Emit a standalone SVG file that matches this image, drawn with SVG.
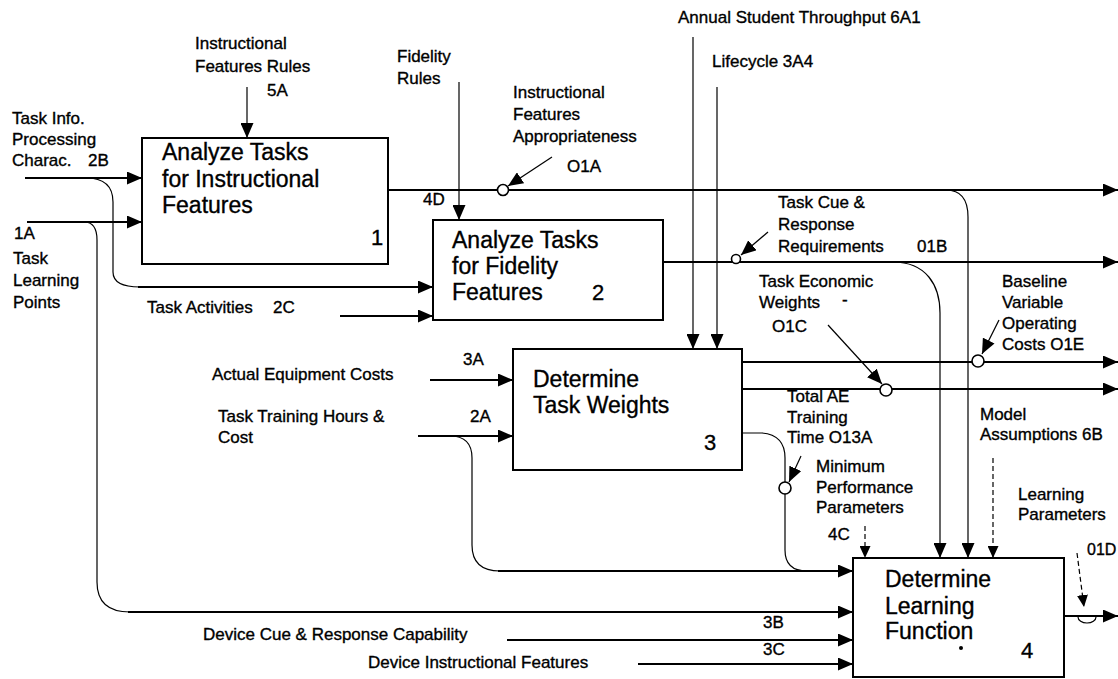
<svg xmlns="http://www.w3.org/2000/svg" width="1118" height="679" viewBox="0 0 1118 679">
<defs>
<style>
text{font-family:"Liberation Sans",Arial,sans-serif;fill:#000;stroke:#000;stroke-width:0.35}
.lb{font-size:17px}
.bt{font-size:23px}
.num{font-size:22px}
.box{fill:#fff;stroke:#000;stroke-width:2}
.ln{fill:none;stroke:#000;stroke-width:1.8}
.th{fill:none;stroke:#000;stroke-width:1.2}
.ds{fill:none;stroke:#000;stroke-width:1.2;stroke-dasharray:5 3}
.ci{fill:#fff;stroke:#000;stroke-width:1.6}
</style>
<marker id="ah" markerUnits="userSpaceOnUse" markerWidth="15" markerHeight="13" refX="15" refY="6.5" orient="auto">
<path d="M0,0 L15,6.5 L0,13 z" fill="#000"/>
</marker>
<marker id="as" markerUnits="userSpaceOnUse" markerWidth="12" markerHeight="11" refX="12" refY="5.5" orient="auto">
<path d="M0,0 L12,5.5 L0,11 z" fill="#000"/>
</marker>
</defs>
<rect width="1118" height="679" fill="#fff"/>

<g id="connectors">
<path class="ln" d="M25,178 H142" marker-end="url(#ah)"/>
<path class="th" d="M86,178 Q113,178 113,202 V272 Q113,287 140,287"/>
<path class="ln" d="M138,287 H433" marker-end="url(#ah)"/>
<path class="ln" d="M27,222 H142" marker-end="url(#ah)"/>
<path class="th" d="M84,222 Q97,222 97,240 V582 Q97,612 130,612"/>
<path class="ln" d="M128,612 H853" marker-end="url(#ah)"/>
<path class="ln" d="M340,316 H433" marker-end="url(#ah)"/>
<path class="th" d="M247,87 V138" marker-end="url(#ah)"/>
<path class="th" d="M459,82 V220" marker-end="url(#ah)"/>
<path class="th" d="M693,37 V349" marker-end="url(#ah)"/>
<path class="th" d="M717,87 V349" marker-end="url(#ah)"/>
<path class="ln" d="M388,190 H1118" marker-end="url(#ah)"/>
<path class="th" d="M946,190 C962,190 968,200 968,217 V558" marker-end="url(#ah)"/>
<path class="ln" d="M663,262 H1118" marker-end="url(#ah)"/>
<path class="th" d="M893,262 C926,262 940,285 940,313 V558" marker-end="url(#ah)"/>
<path class="ln" d="M430,380 H513" marker-end="url(#ah)"/>
<path class="ln" d="M418,436 H513" marker-end="url(#ah)"/>
<path class="th" d="M450,436 Q472,436 472,458 V545 Q472,571 500,571"/>
<path class="ln" d="M498,571 H853" marker-end="url(#ah)"/>
<path class="ln" d="M742,362 H1118" marker-end="url(#ah)"/>
<path class="ln" d="M742,389 H1118" marker-end="url(#ah)"/>
<path class="th" d="M742,433 H762 Q785,435 785,458 V550 Q785,571 807,571"/>
<path class="ln" d="M507,640 H853" marker-end="url(#ah)"/>
<path class="ln" d="M638,664 H853" marker-end="url(#ah)"/>
<path class="ds" d="M865,526 V558" marker-end="url(#as)"/>
<path class="ds" d="M993,458 V558" marker-end="url(#as)"/>
<path class="ln" d="M1064,616 H1118" marker-end="url(#ah)"/>
<path class="ds" d="M1077,553 L1084,607" marker-end="url(#as)"/>
<path class="th" d="M1078,617 A9,6 0 0 0 1096,617"/>
<path class="th" d="M552,157 L508,186" marker-end="url(#ah)"/>
<circle class="ci" cx="503" cy="190" r="5.5"/>
<path class="th" d="M768,232 L741,255" marker-end="url(#ah)"/>
<circle class="ci" cx="736" cy="259" r="4.5"/>
<path class="th" d="M828,325 L882,384" marker-end="url(#ah)"/>
<circle class="ci" cx="886" cy="390" r="6"/>
<path class="th" d="M999,320 L982,354" marker-end="url(#ah)"/>
<circle class="ci" cx="978" cy="361" r="6"/>
<path class="th" d="M801,456 L789,482" marker-end="url(#ah)"/>
<circle class="ci" cx="785" cy="488" r="6"/>
</g>

<g id="node1">
<rect class="box" x="142" y="138" width="246" height="126"/>
<text class="bt" x="162" y="160">Analyze Tasks</text>
<text class="bt" x="162" y="187">for Instructional</text>
<text class="bt" x="162" y="213">Features</text>
<text class="num" x="371" y="245">1</text>
</g>
<g id="node2">
<rect class="box" x="433" y="220" width="230" height="100"/>
<text class="bt" x="452" y="248">Analyze Tasks</text>
<text class="bt" x="452" y="274">for Fidelity</text>
<text class="bt" x="452" y="300">Features</text>
<text class="num" x="592" y="300">2</text>
</g>
<g id="node3">
<rect class="box" x="513" y="349" width="229" height="121"/>
<text class="bt" x="533" y="387">Determine</text>
<text class="bt" x="533" y="413">Task Weights</text>
<text class="num" x="704" y="450">3</text>
</g>
<g id="node4">
<rect class="box" x="853" y="558" width="211" height="119"/>
<text class="bt" x="885" y="587">Determine</text>
<text class="bt" x="885" y="614">Learning</text>
<text class="bt" x="885" y="639">Function</text>
<circle cx="961" cy="648" r="2" fill="#000"/>
<text class="num" x="1021" y="658">4</text>
</g>

<g id="labels">
<text class="lb" x="12" y="124">Task Info.</text>
<text class="lb" x="12" y="145">Processing</text>
<text class="lb" x="12" y="166">Charac.</text>
<text class="lb" x="88" y="166">2B</text>
<text class="lb" x="14" y="239">1A</text>
<text class="lb" x="13" y="264">Task</text>
<text class="lb" x="13" y="286">Learning</text>
<text class="lb" x="13" y="308">Points</text>
<text class="lb" x="195" y="49">Instructional</text>
<text class="lb" x="195" y="72">Features Rules</text>
<text class="lb" x="267" y="96">5A</text>
<text class="lb" x="397" y="62">Fidelity</text>
<text class="lb" x="397" y="84">Rules</text>
<text class="lb" x="513" y="98">Instructional</text>
<text class="lb" x="513" y="120">Features</text>
<text class="lb" x="513" y="142">Appropriateness</text>
<text class="lb" x="567" y="172">O1A</text>
<text class="lb" x="423" y="205">4D</text>
<text class="lb" x="678" y="23">Annual Student Throughput 6A1</text>
<text class="lb" x="712" y="67">Lifecycle 3A4</text>
<text class="lb" x="778" y="208">Task Cue &amp;</text>
<text class="lb" x="778" y="230">Response</text>
<text class="lb" x="778" y="252">Requirements</text>
<text class="lb" x="917" y="252">01B</text>
<text class="lb" x="759" y="287">Task Economic</text>
<text class="lb" x="759" y="308">Weights</text>
<text class="lb" x="842" y="305">-</text>
<text class="lb" x="772" y="332">O1C</text>
<text class="lb" x="1002" y="287">Baseline</text>
<text class="lb" x="1002" y="308">Variable</text>
<text class="lb" x="1002" y="329">Operating</text>
<text class="lb" x="1002" y="350">Costs  O1E</text>
<text class="lb" x="147" y="313">Task Activities</text>
<text class="lb" x="273" y="313">2C</text>
<text class="lb" x="212" y="380">Actual Equipment Costs</text>
<text class="lb" x="463" y="365">3A</text>
<text class="lb" x="218" y="422">Task Training Hours &amp;</text>
<text class="lb" x="218" y="443">Cost</text>
<text class="lb" x="470" y="422">2A</text>
<text class="lb" x="787" y="402">Total AE</text>
<text class="lb" x="787" y="423">Training</text>
<text class="lb" x="787" y="443">Time O13A</text>
<text class="lb" x="816" y="472">Minimum</text>
<text class="lb" x="816" y="493">Performance</text>
<text class="lb" x="816" y="513">Parameters</text>
<text class="lb" x="828" y="540">4C</text>
<text class="lb" x="980" y="420">Model</text>
<text class="lb" x="980" y="440">Assumptions 6B</text>
<text class="lb" x="1018" y="500">Learning</text>
<text class="lb" x="1018" y="520">Parameters</text>
<text class="lb" x="1087" y="555" style="font-size:16px">01D</text>
<text class="lb" x="203" y="640">Device Cue &amp; Response Capability</text>
<text class="lb" x="368" y="668">Device Instructional Features</text>
<text class="lb" x="763" y="628">3B</text>
<text class="lb" x="763" y="655">3C</text>
</g>
</svg>
